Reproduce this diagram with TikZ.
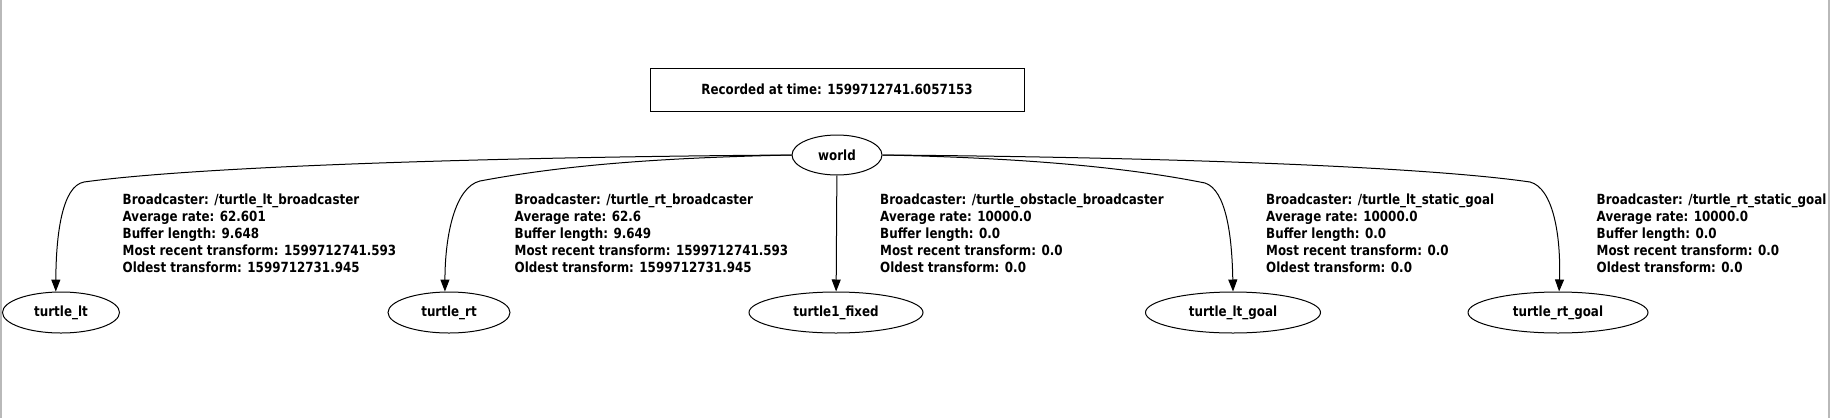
\documentclass[tikz,border=0pt]{standalone}
\usepackage{fontspec}
\newfontfamily\labfont{DejaVu Sans}[FakeStretch=0.85]
\usetikzlibrary{shapes.geometric,arrows.meta}
\begin{document}
\begin{tikzpicture}[x=1pt,y=-1pt,
  font=\labfont\bfseries\fontsize{14pt}{17pt}\selectfont,
  tfnode/.style={ellipse, draw, line width=1pt, inner sep=0pt, minimum height=41pt},
  conn/.style={line width=1pt, -{Triangle[length=12pt,width=9pt]}},
  info/.style={anchor=base west, inner sep=0pt},
  stampbox/.style={draw, line width=1pt, minimum width=374pt, minimum height=43pt, inner sep=0pt}]
\useasboundingbox (0,0) rectangle (1830,418);
\draw[gray!55, line width=1.5pt] (0.75,0) -- (0.75,418);
\draw[gray!55, line width=1.5pt] (1829,0) -- (1829,418);

\node[stampbox] (stamp) at (837,89.5) {Recorded at time: 1599712741.6057153};

\node[tfnode, minimum width=90pt, minimum height=40pt] (world) at (837,155) {world};
\node[tfnode, minimum width=117pt] (tlt) at (61,312.5) {turtle\_lt};
\node[tfnode, minimum width=122pt] (trt) at (449,312.5) {turtle\_rt};
\node[tfnode, minimum width=174pt] (tf) at (836,312.5) {turtle1\_fixed};
\node[tfnode, minimum width=175pt] (tltg) at (1233,312.5) {turtle\_lt\_goal};
\node[tfnode, minimum width=180pt] (trtg) at (1558,312.5) {turtle\_rt\_goal};

\draw[conn] (world.west) .. controls (500,157) and (200,166) .. (84,182)
  .. controls (62,186) and (56,235) .. (tlt.104);
\draw[conn] (world.west) .. controls (650,158) and (560,166) .. (480,181)
  .. controls (455,187) and (445,235) .. (trt.101);
\draw[conn] (world) -- (tf);
\draw[conn] (world.east) .. controls (1030,158) and (1130,168) .. (1205,183)
  .. controls (1226,190) and (1232,235) .. (tltg.north);
\draw[conn] (world.east) .. controls (1150,157) and (1420,166) .. (1530,182)
  .. controls (1553,188) and (1561,235) .. (trtg.87);

\node[info] (i1) at (122.5,204) {\begin{tabular}[t]{@{}l@{}}Broadcaster: /turtle\_lt\_broadcaster\\ Average rate: 62.601\\ Buffer length: 9.648\\ Most recent transform: 1599712741.593\\ Oldest transform: 1599712731.945\end{tabular}};
\node[info] (i2) at (514.5,204) {\begin{tabular}[t]{@{}l@{}}Broadcaster: /turtle\_rt\_broadcaster\\ Average rate: 62.6\\ Buffer length: 9.649\\ Most recent transform: 1599712741.593\\ Oldest transform: 1599712731.945\end{tabular}};
\node[info] (i3) at (880,204) {\begin{tabular}[t]{@{}l@{}}Broadcaster: /turtle\_obstacle\_broadcaster\\ Average rate: 10000.0\\ Buffer length: 0.0\\ Most recent transform: 0.0\\ Oldest transform: 0.0\end{tabular}};
\node[info] (i4) at (1266,204) {\begin{tabular}[t]{@{}l@{}}Broadcaster: /turtle\_lt\_static\_goal\\ Average rate: 10000.0\\ Buffer length: 0.0\\ Most recent transform: 0.0\\ Oldest transform: 0.0\end{tabular}};
\node[info] (i5) at (1596.5,204) {\begin{tabular}[t]{@{}l@{}}Broadcaster: /turtle\_rt\_static\_goal\\ Average rate: 10000.0\\ Buffer length: 0.0\\ Most recent transform: 0.0\\ Oldest transform: 0.0\end{tabular}};
\end{tikzpicture}
\end{document}
